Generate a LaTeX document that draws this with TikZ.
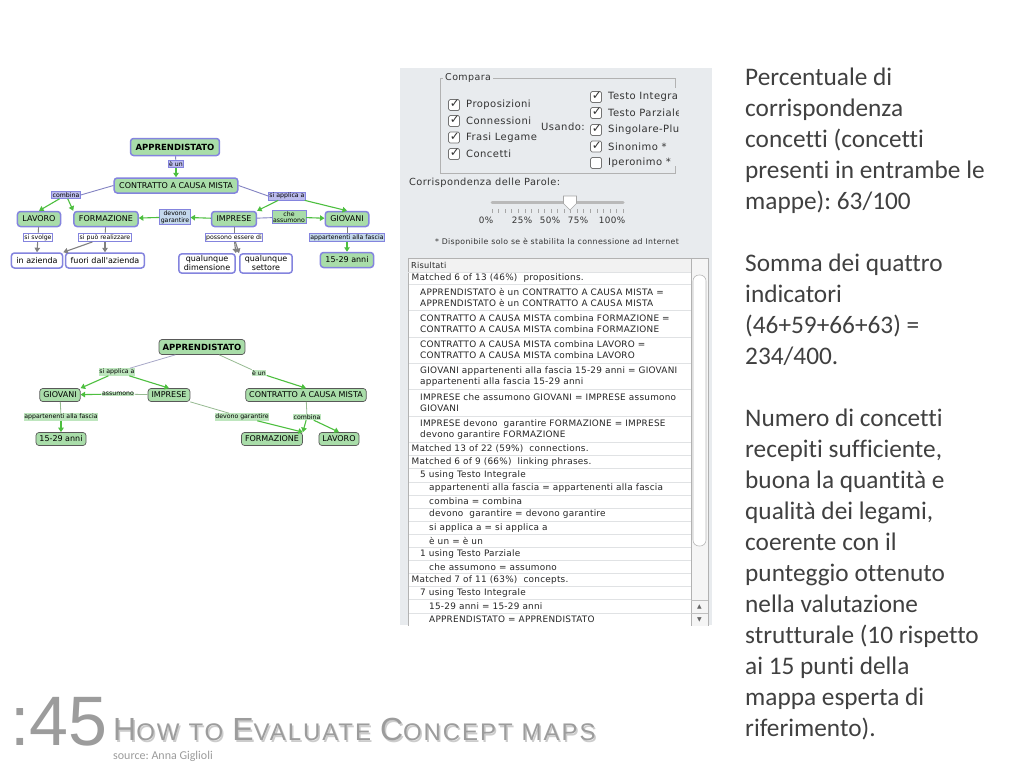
\documentclass[tikz,border=0pt]{standalone}
\usepackage{fontspec}
\setmainfont{Carlito}[Ligatures=NoCommon]
\newfontfamily\mapfont{DejaVu Sans}
\newfontfamily\uifont[LetterSpace=4.5]{DejaVu Sans}
\newfontfamily\rowfont[LetterSpace=2.7]{DejaVu Sans}
\newfontfamily\bigfont{Liberation Sans}
\newfontfamily\titlefont[LetterSpace=8]{Liberation Sans}
\usetikzlibrary{
    arrows.meta,
    calc
}
\frenchspacing
\definecolor{mapgreen}{HTML}{A9DDA9}
\definecolor{maplav}{HTML}{8484DE}
\definecolor{linkfill}{HTML}{C4D8EC}
\definecolor{arrowgreen}{HTML}{4DBF3F}
\definecolor{panelbg}{HTML}{E8EBEE}
\definecolor{rowline}{HTML}{E0E2E4}
\definecolor{slidegray}{HTML}{9C9C9C}
\definecolor{bodytext}{HTML}{404040}
\newcommand{\smallcapword}[2]{{\fontsize{32}{32}\selectfont #1}{\fontsize{24}{24}\selectfont #2}}
\tikzstyle{concept} = [
    rectangle,
    rounded corners=3pt,
    draw=maplav,
    line width=1.5pt,
    fill=mapgreen,
    inner xsep=5pt,
    inner ysep=2pt,
    minimum height=15pt,
    align=center,
    font=\mapfont\fontsize{8}{9}\selectfont
]
\tikzstyle{instance} = [concept, fill=white]
\tikzstyle{link} = [
    rectangle,
    draw=maplav,
    line width=0.7pt,
    fill=linkfill,
    inner sep=1pt,
    align=center,
    font=\mapfont\fontsize{6.2}{6.6}\selectfont
]
\tikzstyle{tie} = [draw=maplav!70!gray, line width=0.9pt]
\tikzstyle{arrow} = [
    -{Triangle[length=4.5pt,width=5.5pt]},
    draw=arrowgreen,
    line width=1.1pt
]
\tikzstyle{grayarrow} = [arrow, draw=gray]
\tikzstyle{bconcept} = [concept, draw=black!65, line width=0.7pt, inner xsep=3.5pt, minimum height=13pt]
\tikzstyle{blink} = [rectangle, fill=mapgreen!75, inner sep=0.6pt, font=\mapfont\fontsize{6.2}{6.6}\selectfont]
\tikzstyle{btie} = [draw=arrowgreen!45!gray!70, line width=0.8pt]
\tikzstyle{uitext} = [anchor=west, inner sep=0pt, text=black!80, font=\uifont\fontsize{10}{12}\selectfont]
\tikzstyle{cbox} = [rectangle, rounded corners=1.5pt, draw=black!55, line width=0.7pt, fill=white, minimum size=11pt, inner sep=0pt]
\tikzstyle{tickmark} = [inner sep=0pt, xshift=1pt, yshift=1pt, text=black!80, font=\mapfont\fontsize{12}{12}\selectfont]
\tikzstyle{ticked} = [cbox, label={[tickmark]center:✓}]
\tikzstyle{row} = [anchor=west, inner sep=0pt, align=left, text=black!85, font=\rowfont\fontsize{8.9}{11}\selectfont]

\begin{document}
\begin{tikzpicture}[x=1pt, y=-1pt]
    \useasboundingbox (0,0) rectangle (1024,768);
    \fill[white] (0,0) rectangle (1024,768);

    % First map
    \node[concept, font=\mapfont\bfseries\fontsize{8.5}{9}\selectfont, minimum height=17pt] (appr) at (175,147) {APPRENDISTATO};
    \node[link, fill=maplav!55] (eun) at (176,164) {è un};
    \node[concept] (contr) at (176,185.5) {CONTRATTO A CAUSA MISTA};
    \node[link, fill=maplav!55] (comb) at (66,195) {combina};
    \node[link, fill=maplav!55] (siapp) at (287,196) {si applica a};
    \node[concept] (lavoro) at (39,219) {LAVORO};
    \node[concept] (formaz) at (106,219) {FORMAZIONE};
    \node[link] (devgar) at (175,217) {devono\\garantire};
    \node[concept] (impr) at (234,219) {IMPRESE};
    \node[link, fill=mapgreen] (cheass) at (289,217) {che\\assumono};
    \node[concept] (giov) at (347,219) {GIOVANI};
    \node[link, fill=white] (svolge) at (38,237.5) {si svolge};
    \node[link, fill=white] (realiz) at (105,237.5) {si può realizzare};
    \node[link, fill=white] (possono) at (234,237.5) {possono essere di};
    \node[link, fill=linkfill] (appart) at (347,237.5) {appartenenti alla fascia};
    \node[instance] (inaz) at (37,260.5) {in azienda};
    \node[instance] (fuori) at (105,260.5) {fuori dall'azienda};
    \node[instance] (qdim) at (207,263.5) {qualunque\\dimensione};
    \node[instance] (qset) at (266,263.5) {qualunque\\settore};
    \node[concept] (anni) at (347,260) {15-29 anni};

    \draw[tie] (appr) -- (eun);
    \draw[arrow] (eun) -- (contr);
    \draw[tie] (contr.west) -- (comb.east);
    \draw[tie] (contr.east) -- (siapp.west);
    \draw[arrow] (comb) -- (lavoro.north);
    \draw[arrow] (comb) -- (formaz.north west);
    \draw[arrow] (siapp) -- (impr.north east);
    \draw[arrow] (siapp) -- (giov.north);
    \draw[arrow] (impr) -- (devgar);
    \draw[arrow] (devgar) -- (formaz);
    \draw[tie] (impr) -- (cheass);
    \draw[arrow] (cheass) -- (giov);
    \draw[tie, draw=gray] (lavoro) -- (svolge);
    \draw[grayarrow] (svolge) -- (inaz.north);
    \draw[tie, draw=gray] (formaz) -- (realiz);
    \draw[grayarrow] (realiz) -- (inaz.north east);
    \draw[grayarrow] (realiz) -- (fuori.north);
    \draw[tie, draw=gray] (impr) -- (possono);
    \draw[grayarrow] (possono) -- (qdim.north east);
    \draw[grayarrow] (possono) -- (qset.north west);
    \draw[tie, draw=gray] (giov) -- (appart);
    \draw[arrow] (appart) -- (anni);

    % Second map
    \node[bconcept, font=\mapfont\bfseries\fontsize{8.5}{9}\selectfont, minimum height=15pt] (appr2) at (202,347) {APPRENDISTATO};
    \node[blink] (siapp2) at (117,372) {si applica a};
    \node[blink] (eun2) at (259,373) {è un};
    \node[bconcept] (giov2) at (60,395) {GIOVANI};
    \node[blink] (assum2) at (118,394) {assumono};
    \node[bconcept] (impr2) at (169,395) {IMPRESE};
    \node[bconcept] (contr2) at (306,395) {CONTRATTO A CAUSA MISTA};
    \node[blink] (appart2) at (61,417) {appartenenti alla fascia};
    \node[blink] (devgar2) at (242,417) {devono garantire};
    \node[blink] (comb2) at (307,417) {combina};
    \node[bconcept] (anni2) at (61,439) {15-29 anni};
    \node[bconcept] (form2) at (272,439) {FORMAZIONE};
    \node[bconcept] (lav2) at (339,439) {LAVORO};

    \draw[btie, draw=maplav!50!gray!70] (appr2) -- (siapp2);
    \draw[arrow] (siapp2) -- (giov2.north east);
    \draw[arrow] (siapp2) -- (impr2.north);
    \draw[btie] (appr2) -- (eun2);
    \draw[arrow] (eun2) -- (contr2.north);
    \draw[btie] (impr2) -- (assum2);
    \draw[arrow] (assum2) -- (giov2);
    \draw[btie] (giov2) -- (appart2);
    \draw[arrow] (appart2) -- (anni2);
    \draw[btie] (impr2.south east) -- (devgar2);
    \draw[arrow] (devgar2) -- (form2.north east);
    \draw[btie] (contr2) -- (comb2);
    \draw[arrow] (comb2) -- (form2.north east);
    \draw[arrow] (comb2) -- (lav2.north);

    % Comparison window
    \begin{scope}
        \clip (400,68) rectangle (712,625);
        \fill[panelbg] (400,68) rectangle (712,625);

        \draw[gray!60, line width=0.6pt] (675,88) -- (675,78) -- (440,78) -- (440,173) -- (675,173) -- (675,166);
        \node[uitext, fill=panelbg, inner xsep=2pt, font=\uifont\fontsize{9.5}{11}\selectfont] (compara) at (443,78) {Compara};

        \node[ticked] (cbprop) at (454,105) {};
        \node[ticked] (cbconn) at (454,121) {};
        \node[ticked] (cbfrasi) at (454,137.5) {};
        \node[ticked] (cbconc) at (454,154) {};
        \node[uitext] (tprop) at (466,105) {Proposizioni};
        \node[uitext] (tconn) at (466,121) {Connessioni};
        \node[uitext] (tfrasi) at (466,137.5) {Frasi Legame};
        \node[uitext] (tconc) at (466,154) {Concetti};
        \node[uitext] (usando) at (541,127) {Usando:};

        \begin{scope}
            \clip (585,85) rectangle (678,172);
            \node[ticked] (cbint) at (596,97) {};
            \node[ticked] (cbparz) at (596,113) {};
            \node[ticked] (cbsing) at (596,130) {};
            \node[ticked] (cbsin) at (596,146.5) {};
            \node[cbox] (cbiper) at (596,163) {};
            \node[uitext] (tint) at (608,97) {Testo Integrale};
            \node[uitext] (tparz) at (608,113) {Testo Parziale};
            \node[uitext] (tsing) at (608,130) {Singolare-Plurale};
            \node[uitext] (tsin) at (608,146.5) {Sinonimo *};
            \node[uitext] (tiper) at (608,163) {Iperonimo *};
        \end{scope}

        \node[uitext, font=\uifont\fontsize{9.8}{11}\selectfont] (corrisp) at (409,183) {Corrispondenza delle Parole:};

        % Slider
        \coordinate (slidea) at (492,202);
        \coordinate (slideb) at (623,202);
        \draw[gray!55, line width=3pt, line cap=round] (slidea) -- (slideb);
        \foreach \k in {0,...,20}
            \draw[gray!70, line width=0.5pt] ($(slidea)+(\k*6.55,7)$) -- ++(0,4);
        \draw[gray!70, fill=white, line width=0.6pt] (563.5,196) -- (576.5,196) -- (576.5,203.5) -- (570,210) -- (563.5,203.5) -- cycle;
        \node[uitext, anchor=center, font=\uifont\fontsize{8.8}{10}\selectfont] (p0) at (486,220) {0\%};
        \node[uitext, anchor=center, font=\uifont\fontsize{8.8}{10}\selectfont] (p25) at (522,220) {25\%};
        \node[uitext, anchor=center, font=\uifont\fontsize{8.8}{10}\selectfont] (p50) at (550,220) {50\%};
        \node[uitext, anchor=center, font=\uifont\fontsize{8.8}{10}\selectfont] (p75) at (578,220) {75\%};
        \node[uitext, anchor=center, font=\uifont\fontsize{8.8}{10}\selectfont] (p100) at (612,220) {100\%};
        \node[uitext, anchor=center, font=\uifont\fontsize{7.8}{9}\selectfont] (nota) at (557,242) {* Disponibile solo se è stabilita la connessione ad Internet};

        % Results list
        \draw[gray!60, fill=white, line width=0.6pt] (408,258) rectangle (708,640);
        \fill[gray!10] (408.5,258.5) rectangle (691,272);
        \node[row, font=\rowfont\fontsize{8.2}{9}\selectfont] (risultati) at (411,265) {Risultati};
        \draw[rowline] (408,272) -- (691,272);
        \foreach \y in {284,310.4,336.8,363.2,389.6,416,442.4}
            \draw[rowline] (409,\y) -- (691,\y);
        \foreach \j in {1,...,14}
            \draw[rowline] (409,442.4+\j*13.1) -- (691,442.4+\j*13.1);

        \node[row] (r1) at (411.5,278) {Matched 6 of 13 (46\%)\ \ propositions.};
        \node[row] (r2) at (420,297.2) {APPRENDISTATO è un CONTRATTO A CAUSA MISTA =\\APPRENDISTATO è un CONTRATTO A CAUSA MISTA};
        \node[row] (r3) at (420,323.6) {CONTRATTO A CAUSA MISTA combina FORMAZIONE =\\CONTRATTO A CAUSA MISTA combina FORMAZIONE};
        \node[row] (r4) at (420,350) {CONTRATTO A CAUSA MISTA combina LAVORO =\\CONTRATTO A CAUSA MISTA combina LAVORO};
        \node[row] (r5) at (420,376.4) {GIOVANI appartenenti alla fascia 15-29 anni = GIOVANI\\appartenenti alla fascia 15-29 anni};
        \node[row] (r6) at (420,402.8) {IMPRESE che assumono GIOVANI = IMPRESE assumono\\GIOVANI};
        \node[row] (r7) at (420,429.2) {IMPRESE devono\ \ garantire FORMAZIONE = IMPRESE\\devono garantire FORMAZIONE};
        \node[row] (r8) at (411.5,449) {Matched 13 of 22 (59\%)\ \ connections.};
        \node[row] (r9) at (411.5,462.1) {Matched 6 of 9 (66\%)\ \ linking phrases.};
        \node[row] (r10) at (420,475.2) {5 using Testo Integrale};
        \node[row] (r11) at (429,488.3) {appartenenti alla fascia = appartenenti alla fascia};
        \node[row] (r12) at (429,501.4) {combina = combina};
        \node[row] (r13) at (429,514.5) {devono\ \ garantire = devono garantire};
        \node[row] (r14) at (429,527.6) {si applica a = si applica a};
        \node[row] (r15) at (429,540.7) {è un = è un};
        \node[row] (r16) at (420,553.8) {1 using Testo Parziale};
        \node[row] (r17) at (429,566.9) {che assumono = assumono};
        \node[row] (r18) at (411.5,580) {Matched 7 of 11 (63\%)\ \ concepts.};
        \node[row] (r19) at (420,593.1) {7 using Testo Integrale};
        \node[row] (r20) at (429,606.2) {15-29 anni = 15-29 anni};
        \node[row] (r21) at (429,619.3) {APPRENDISTATO = APPRENDISTATO};

        % Scroll bar
        \draw[gray!60, fill=gray!8, line width=0.5pt] (691,258) rectangle (708,640);
        \draw[gray!55, fill=white, line width=0.6pt, rounded corners=6pt] (693,275) rectangle (706,546);
        \draw[gray!50] (691,600) -- (708,600);
        \draw[gray!50] (691,613) -- (708,613);
        \node[inner sep=0pt, text=gray!80!black, font=\mapfont\fontsize{6}{6}\selectfont] (scrollup) at (699.5,607) {▲};
        \node[inner sep=0pt, text=gray!80!black, font=\mapfont\fontsize{6}{6}\selectfont] (scrolldown) at (699.5,620) {▼};
    \end{scope}

    % Comments on the right
    \node[anchor=north west, inner sep=0pt, align=left, text=bodytext, font=\fontsize{25.3}{31}\selectfont] (notes) at (745,68) {Percentuale di\\corrispondenza\\concetti (concetti\\presenti in entrambe le\\mappe): 63/100\\[31pt]Somma dei quattro\\indicatori\\(46+59+66+63) =\\234/400.\\[31pt]Numero di concetti\\recepiti sufficiente,\\buona la quantità e\\qualità dei legami,\\coerente con il\\punteggio ottenuto\\nella valutazione\\strutturale (10 rispetto\\ai 15 punti della\\mappa esperta di\\riferimento).};

    % Title
    \node[anchor=base west, inner sep=0pt, text=slidegray, font=\bigfont\fontsize{70}{70}\selectfont] (number) at (10,745) {:45};
    \node[anchor=base west, inner sep=0pt, text=black!20, font=\titlefont] (titleshadow) at (114.5,742) {\smallcapword{H}{OW}\hspace{9pt}\smallcapword{}{TO}\hspace{9pt}\smallcapword{E}{VALUATE}\hspace{9pt}\smallcapword{C}{ONCEPT}\hspace{9pt}\smallcapword{}{MAPS}};
    \node[anchor=base west, inner sep=0pt, text=slidegray, font=\titlefont] (title) at (113,740) {\smallcapword{H}{OW}\hspace{9pt}\smallcapword{}{TO}\hspace{9pt}\smallcapword{E}{VALUATE}\hspace{9pt}\smallcapword{C}{ONCEPT}\hspace{9pt}\smallcapword{}{MAPS}};
    \node[anchor=base west, inner sep=0pt, text=slidegray, font=\fontsize{12}{14}\selectfont] (source) at (113,759) {source: Anna Giglioli};
\end{tikzpicture}
\end{document}
